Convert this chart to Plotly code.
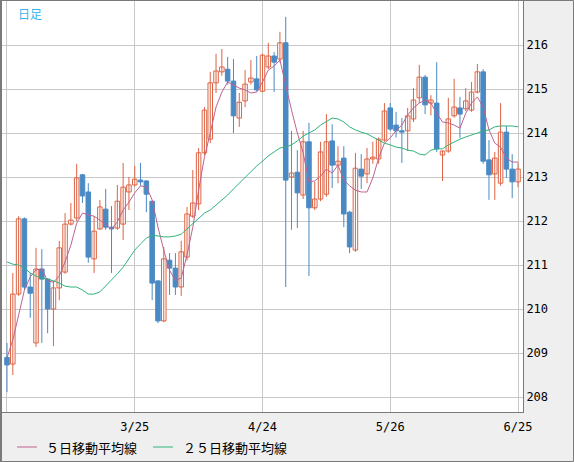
import plotly.graph_objects as go

# ---- data ----
opens = [208.90, 208.75, 210.34, 212.05, 210.50, 209.23, 210.91, 210.68, 210.00, 210.48,
         210.84, 211.93, 212.07, 213.05, 212.66, 211.14, 211.82, 212.27, 211.86, 211.84,
         211.93, 212.66, 212.82, 212.93, 212.91, 212.45, 210.64, 209.73, 211.11, 210.93,
         210.50, 211.18, 212.11, 212.39, 213.55, 213.86, 215.14, 215.39, 215.45, 215.18,
         214.34, 214.73, 215.16, 215.23, 214.95, 215.50, 215.75, 215.68, 216.05, 213.00,
         213.11, 212.59, 213.80, 212.30, 212.50, 212.61, 213.82, 213.27, 213.43, 212.20,
         211.34, 213.18, 213.07, 213.41, 213.41, 213.84, 214.57, 214.18, 214.05, 214.05,
         214.32, 214.80, 215.27, 214.68, 214.68, 213.50, 213.59, 214.39, 214.57, 214.55,
         214.52, 214.93, 215.39, 213.39, 213.07, 212.86, 214.02, 213.18, 212.89]
highs = [209.23, 210.82, 212.11, 212.08, 210.82, 211.39, 211.36, 210.70, 210.64, 211.55,
         212.18, 212.41, 213.30, 213.07, 212.86, 212.11, 212.48, 212.73, 212.34, 212.82,
         213.32, 213.00, 213.25, 213.32, 212.93, 212.45, 210.64, 211.41, 211.27, 211.27,
         211.55, 212.32, 213.16, 213.66, 214.59, 215.39, 215.80, 215.91, 215.73, 215.68,
         214.91, 215.43, 215.66, 215.75, 215.80, 216.05, 215.84, 216.30, 216.64, 214.05,
         213.61, 214.05, 214.23, 212.89, 213.80, 214.43, 214.20, 213.70, 213.70, 212.23,
         213.55, 213.52, 213.66, 213.80, 213.90, 214.68, 214.68, 214.48, 214.34, 214.57,
         215.02, 215.55, 215.32, 214.86, 215.61, 213.60, 214.80, 215.23, 214.82, 215.02,
         215.16, 215.57, 215.45, 213.84, 213.57, 214.68, 214.16, 213.52, 213.32]
lows = [208.11, 208.50, 210.30, 210.43, 209.80, 209.14, 209.23, 209.45, 209.16, 210.20,
        210.80, 211.90, 212.00, 212.41, 211.05, 210.82, 211.80, 211.80, 210.82, 211.80,
        211.57, 212.25, 212.78, 212.80, 212.20, 210.20, 209.68, 209.70, 210.32, 210.32,
        210.30, 211.10, 212.07, 212.25, 213.50, 213.77, 214.91, 215.30, 215.10, 214.00,
        214.14, 214.59, 215.10, 214.95, 214.93, 215.45, 214.93, 215.60, 210.50, 211.80,
        211.84, 212.50, 210.75, 212.25, 212.45, 212.55, 212.75, 212.86, 211.86, 211.27,
        211.30, 212.73, 212.86, 213.30, 213.30, 213.80, 214.05, 213.90, 213.32, 213.59,
        214.25, 214.68, 214.43, 214.40, 213.57, 212.91, 213.55, 214.35, 213.89, 214.50,
        214.48, 214.90, 213.30, 212.48, 212.48, 212.80, 212.98, 212.52, 212.77]
closes = [208.73, 210.34, 212.05, 210.50, 210.36, 210.91, 210.68, 210.00, 210.48, 211.39,
          211.93, 212.02, 212.98, 212.57, 211.18, 211.77, 212.32, 211.86, 211.82, 212.45,
          212.77, 212.82, 212.95, 212.89, 212.61, 210.59, 209.73, 211.14, 210.93, 210.50,
          211.30, 212.16, 212.41, 213.55, 214.52, 215.14, 215.41, 215.50, 215.18, 214.39,
          214.70, 215.11, 215.25, 214.98, 215.77, 215.75, 215.61, 216.05, 212.93, 213.09,
          212.64, 213.80, 212.30, 212.50, 213.57, 213.80, 213.27, 213.36, 212.16, 211.41,
          213.20, 213.02, 213.41, 213.45, 213.86, 214.50, 214.09, 214.05, 214.02, 214.39,
          214.75, 215.27, 214.64, 214.75, 213.64, 213.59, 214.32, 214.59, 214.43, 214.73,
          214.93, 215.39, 213.36, 213.05, 213.43, 214.02, 213.18, 212.89, 213.18]
ma5 = [208.89, 209.30, 209.86, 210.43, 210.73, 210.89, 210.91, 210.64, 210.61, 210.75,
       211.07, 211.45, 211.95, 212.18, 212.14, 212.11, 212.02, 211.91, 211.82, 211.98,
       212.25, 212.43, 212.64, 212.80, 212.77, 212.48, 211.86, 211.34, 210.88, 210.65,
       210.70, 211.23, 211.86, 212.70, 213.45, 214.00, 214.59, 214.93, 215.16, 215.09,
       215.02, 214.98, 214.91, 214.93, 215.16, 215.43, 215.52, 215.66, 215.05, 214.52,
       214.00, 213.55, 212.89, 212.91, 213.02, 213.18, 213.09, 213.27, 212.93, 212.80,
       212.70, 212.66, 212.66, 212.98, 213.43, 213.77, 213.89, 214.05, 214.18, 214.41,
       214.57, 214.68, 214.75, 214.68, 214.45, 214.25, 214.23, 214.18, 214.11, 214.45,
       214.68, 214.82, 214.59, 214.07, 213.77, 213.68, 213.43, 213.34, 213.34]
ma25 = [211.07, 211.02, 211.00, 210.93, 210.82, 210.75, 210.70, 210.68, 210.64, 210.59,
        210.52, 210.50, 210.50, 210.43, 210.34, 210.34, 210.39, 210.52, 210.66, 210.80,
        210.95, 211.14, 211.34, 211.48, 211.61, 211.68, 211.66, 211.64, 211.64, 211.66,
        211.70, 211.82, 211.95, 212.07, 212.18, 212.25, 212.36, 212.48, 212.59, 212.73,
        212.86, 213.00, 213.14, 213.25, 213.36, 213.48, 213.57, 213.66, 213.68, 213.73,
        213.82, 213.93, 214.00, 214.07, 214.18, 214.27, 214.34, 214.32, 214.25, 214.14,
        214.07, 214.02, 213.98, 213.91, 213.84, 213.77, 213.73, 213.68, 213.66, 213.61,
        213.59, 213.52, 213.50, 213.61, 213.64, 213.64, 213.73, 213.80, 213.86, 213.91,
        213.95, 214.00, 214.05, 214.07, 214.14, 214.16, 214.16, 214.16, 214.14]
tick_days = [0, 22, 44, 66, 88]
tick_labels = ["", "3/25", "4/24", "5/26", "6/25"]
price_ticks = [208, 209, 210, 211, 212, 213, 214, 215, 216]
legend_names = ["５日移動平均線", "２５日移動平均線"]

# ---- styling ----
W, H = 574, 462
ML, MR, MT, MB = 2, 51, 1, 50
PW, PH = W - ML - MR, H - MT - MB
UP = "#dc6445"
DOWN = "#4a8ac4"
C5 = "#bf6290"
C25 = "#2eb478"
FRAME = "#7a7a7a"
GRID = "#c8c8c8"
BODY_W = 0.78
NUMFONT = dict(family="DejaVu Sans Mono", size=12, color="#000000")
JPFONT = dict(family="Noto Sans CJK JP", size=13, color="#000000")


def px(xp):
    return (xp - ML) / PW


def py(yp):
    return (MT + PH - yp) / PH


idx = list(range(len(closes)))
up = [i for i in idx if closes[i] >= opens[i]]
dn = [i for i in idx if closes[i] < opens[i]]


def wick_xy(sel):
    xs, ys = [], []
    for i in sel:
        xs += [i, i, None]
        ys += [lows[i], highs[i], None]
    return xs, ys


fig = go.Figure()
for sel, col in ((up, UP), (dn, DOWN)):
    wx, wy = wick_xy(sel)
    fig.add_trace(go.Scatter(x=wx, y=wy, mode="lines", line=dict(color=col, width=1),
                             showlegend=False, hoverinfo="skip"))
fig.add_trace(go.Bar(x=up, base=[opens[i] for i in up], y=[closes[i] - opens[i] for i in up],
                     width=BODY_W, marker=dict(color="#ffffff", line=dict(color=UP, width=1)),
                     showlegend=False, hoverinfo="skip"))
fig.add_trace(go.Bar(x=dn, base=[closes[i] for i in dn], y=[opens[i] - closes[i] for i in dn],
                     width=BODY_W, marker=dict(color=DOWN, line=dict(color=DOWN, width=1)),
                     showlegend=False, hoverinfo="skip"))
fig.add_trace(go.Scatter(x=idx, y=ma5, mode="lines", line=dict(color=C5, width=1),
                         name=legend_names[0], showlegend=False, hoverinfo="skip"))
fig.add_trace(go.Scatter(x=idx, y=ma25, mode="lines", line=dict(color=C25, width=1),
                         name=legend_names[1], showlegend=False, hoverinfo="skip"))

shapes = [
    # outer frame
    dict(type="rect", xref="paper", yref="paper", x0=px(0.5), x1=px(W - 0.5),
         y0=py(H - 0.5), y1=py(0.5), line=dict(color=FRAME, width=1), layer="above"),
    dict(type="line", xref="paper", yref="paper", x0=px(1), x1=px(1),
         y0=py(H), y1=py(0), line=dict(color=FRAME, width=2), layer="above"),
    # legend samples
    dict(type="line", xref="paper", yref="paper", x0=px(17), x1=px(37),
         y0=py(447), y1=py(447), line=dict(color=C5, width=1)),
    dict(type="line", xref="paper", yref="paper", x0=px(153), x1=px(173),
         y0=py(447), y1=py(447), line=dict(color=C25, width=1)),
]
annotations = [
    dict(text="日足", xref="paper", yref="paper", x=px(16), y=py(3), xanchor="left",
         yanchor="top", showarrow=False, font=dict(family="Noto Sans CJK JP", size=12, color="#3ab4e8")),
    dict(text=legend_names[0], xref="paper", yref="paper", x=px(44), y=py(447),
         xanchor="left", yanchor="middle", showarrow=False, font=JPFONT),
    dict(text=legend_names[1], xref="paper", yref="paper", x=px(181), y=py(447),
         xanchor="left", yanchor="middle", showarrow=False, font=JPFONT),
]

fig.update_layout(
    width=W, height=H,
    margin=dict(l=ML, r=MR, t=MT, b=MB, pad=0),
    paper_bgcolor="#efefef", plot_bgcolor="#ffffff",
    showlegend=False, barmode="overlay",
    shapes=shapes, annotations=annotations,
    xaxis=dict(range=[-0.86, 88.86], tickmode="array", tickvals=tick_days, ticktext=tick_labels,
               showgrid=True, gridcolor=GRID, gridwidth=1, zeroline=False,
               showline=True, linecolor=FRAME, linewidth=1, ticks="outside", ticklen=4,
               tickcolor="rgba(0,0,0,0)", tickfont=NUMFONT, fixedrange=True),
    yaxis=dict(side="right", range=[207.66, 217.0], tickmode="array", tickvals=price_ticks,
               showgrid=True, gridcolor=GRID, gridwidth=1, zeroline=False,
               showline=True, linecolor=FRAME, linewidth=1, ticks="", tickfont=NUMFONT,
               fixedrange=True),
)

fig.write_html("out.html", config={"displayModeBar": False})
